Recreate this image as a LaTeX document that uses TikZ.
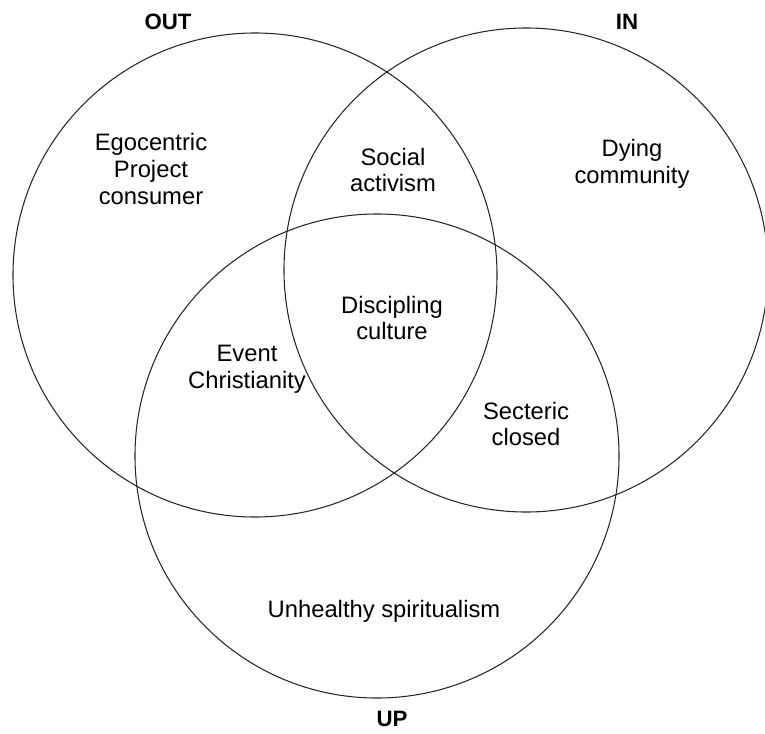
\documentclass[tikz,border=0pt]{standalone}
\usepackage{fontspec}
\setmainfont{Liberation Sans}
\usepackage{tikz}

\tikzset{
  ring/.style={line width=0.9pt, black!85},
  region/.style={align=center, font=\fontsize{20.3}{23}\selectfont},
  setname/.style={font=\fontsize{19}{22}\selectfont\bfseries}
}

\begin{document}
\begin{tikzpicture}[x=0.03cm, y=-0.03cm]
  \useasboundingbox (0,0) rectangle (765,733);
  \draw[ring] (255,275) circle (7.26cm);
  \draw[ring] (526,270) circle (7.26cm);
  \draw[ring] (377,456) circle (7.26cm);
  % set names
  \node[setname] (out) at (168,22) {OUT};
  \node[setname] (in) at (627,22) {IN};
  \node[setname] (up) at (392,719) {UP};
  % regions
  \node[region] (ego) at (151,169) {Egocentric\\Project\\consumer};
  \node[region] (social) at (393,170) {Social\\activism};
  \node[region] (dying) at (632,164) {Dying\\community};
  \node[region] (disc) at (392,318) {Discipling\\culture};
  \node[region] (event) at (247,369) {Event\\Christianity};
  \node[region] (sect) at (526,424) {Secteric\\closed};
  \node[region] (unh) at (384,611) {Unhealthy spiritualism};
\end{tikzpicture}
\end{document}
